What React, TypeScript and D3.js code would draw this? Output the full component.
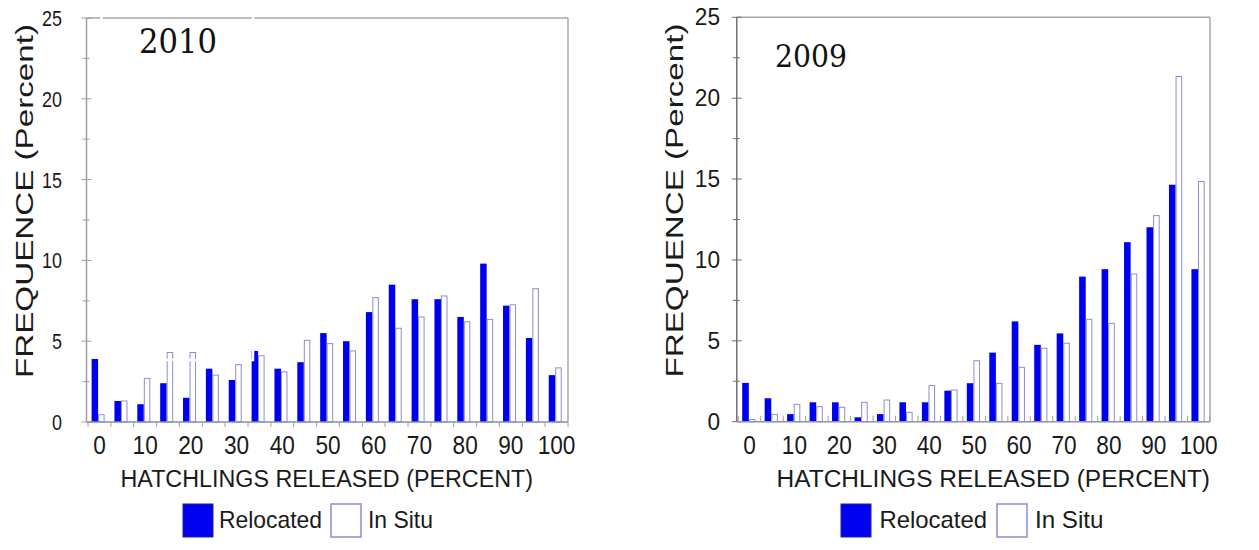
import { scaleBand, scaleLinear } from "d3";

const CATEGORIES = [0, 5, 10, 15, 20, 25, 30, 35, 40, 45, 50, 55, 60, 65, 70, 75, 80, 85, 90, 95, 100];
const X_TICK_LABELS = ["0", "10", "20", "30", "40", "50", "60", "70", "80", "90", "100"];
const Y_TICKS = [0, 5, 10, 15, 20, 25];
const Y_MINOR_TICKS = [2.5, 7.5, 12.5, 17.5, 22.5];

// 2010
const RELOCATED_2010 = [3.9, 1.3, 1.1, 2.4, 1.5, 3.3, 2.6, 4.4, 3.3, 3.7, 5.5, 5.0, 6.8, 8.5, 7.6, 7.6, 6.5, 9.8, 7.2, 5.2, 2.9];
const IN_SITU_2010 = [0.45, 1.3, 2.7, 4.3, 4.3, 2.9, 3.55, 4.1, 3.1, 5.05, 4.85, 4.4, 7.7, 5.8, 6.5, 7.8, 6.2, 6.35, 7.25, 8.25, 3.35];

// 2009
const RELOCATED_2009 = [2.4, 1.45, 0.47, 1.2, 1.2, 0.27, 0.47, 1.2, 1.2, 1.92, 2.38, 4.27, 6.2, 4.75, 5.46, 8.97, 9.43, 11.1, 12.02, 14.65, 9.43];
const IN_SITU_2009 = [0.14, 0.45, 1.07, 0.93, 0.89, 1.2, 1.34, 0.58, 2.23, 1.96, 3.77, 2.37, 3.36, 4.54, 4.85, 6.33, 6.08, 9.13, 12.74, 21.34, 14.85];

const Y_TITLE = "FREQUENCE (Percent)";
const X_TITLE = "HATCHLINGS RELEASED (PERCENT)";
const LEGEND = ["Relocated", "In Situ"];

const BLUE = "#0000f0";
const HOLLOW_STROKE = "#8c8cd2";
const TEXT = "#1a1a1a";
const SANS = "'Liberation Sans', Arial, sans-serif";
const SERIF = "'DejaVu Serif', 'Liberation Serif', serif";

interface PanelCfg {
  year: string;
  left: number;
  right: number;
  top: number;
  bottom: number;
  barOffset: number;
  barW: number;
  axisColor: string;
  baseColor: string;
  tickUp: boolean;
  yLabelRight: number;
  yLabelFont: number;
  yLabelDigitW: number;
  yTitleX: number;
  xTitleX: [number, number];
  yearX: number;
  yearY: number;
  yearW: number;
  yearFont: number;
  legend: { sq1: number; t1: [number, number]; sq2: number; t2: [number, number] };
}

const LEFT_CFG: PanelCfg = {
  year: "2010",
  left: 88,
  right: 568,
  top: 18,
  bottom: 422,
  barOffset: 3.6,
  barW: 6.5,
  axisColor: "#a0a0a0",
  baseColor: "#8a8ab8",
  tickUp: false,
  yLabelRight: 62,
  yLabelFont: 22,
  yLabelDigitW: 10,
  yTitleX: 33,
  xTitleX: [120.5, 533],
  yearX: 139,
  yearY: 52.7,
  yearW: 78,
  yearFont: 34,
  legend: { sq1: 183, t1: [219, 322], sq2: 331, t2: [368, 433] },
};

const RIGHT_CFG: PanelCfg = {
  year: "2009",
  left: 738.3,
  right: 1210,
  top: 17.3,
  bottom: 421.7,
  barOffset: 3.9,
  barW: 6.6,
  axisColor: "#707070",
  baseColor: "#9090a8",
  tickUp: true,
  yLabelRight: 720,
  yLabelFont: 23,
  yLabelDigitW: 12.6,
  yTitleX: 683,
  xTitleX: [776.5, 1210],
  yearX: 775,
  yearY: 66.7,
  yearW: 72,
  yearFont: 32,
  legend: { sq1: 841, t1: [879.5, 987], sq2: 997, t2: [1035, 1103.5] },
};

function Panel({ cfg, relocated, inSitu }: { cfg: PanelCfg; relocated: number[]; inSitu: number[] }) {
  const x = scaleBand<number>().domain(CATEGORIES).range([cfg.left, cfg.right]).paddingInner(0).paddingOuter(0);
  const y = scaleLinear().domain([0, 25]).range([cfg.bottom, cfg.top]);
  const bw = x.bandwidth();
  const boundaries = [...CATEGORIES.map((c) => x(c) ?? 0), cfg.right];
  const axisX = cfg.left - 1.5;

  return (
    <g>
      {/* frame */}
      <line x1={axisX} x2={cfg.right} y1={cfg.top} y2={cfg.top} stroke="#a8a8a8" strokeWidth={1.5} />
      <line x1={cfg.right} x2={cfg.right} y1={cfg.top} y2={cfg.bottom} stroke="#a8a8a8" strokeWidth={1.5} />
      <line x1={axisX} x2={axisX} y1={cfg.top} y2={cfg.bottom} stroke={cfg.axisColor} strokeWidth={1.5} />

      {/* y ticks */}
      {Y_TICKS.map((t) => (
        <line key={"yt" + t} x1={axisX - 5} x2={axisX + 5} y1={y(t)} y2={y(t)} stroke={cfg.axisColor} strokeWidth={1} />
      ))}
      {Y_MINOR_TICKS.map((t) => (
        <line key={"ym" + t} x1={axisX - 4} x2={axisX + 3} y1={y(t)} y2={y(t)} stroke={cfg.axisColor} strokeWidth={1} />
      ))}
      {Y_TICKS.map((t) => (
        <text
          key={"yl" + t}
          x={cfg.yLabelRight}
          y={y(t) + 8}
          textAnchor="end"
          fontSize={cfg.yLabelFont}
          fontFamily={SANS}
          fill={TEXT}
          textLength={String(t).length * cfg.yLabelDigitW}
          lengthAdjust="spacingAndGlyphs"
        >
          {t}
        </text>
      ))}

      {/* bars */}
      {CATEGORIES.map((c, i) => {
        const x0 = (x(c) ?? 0) + cfg.barOffset;
        return (
          <g key={"b" + c}>
            <rect x={x0} y={y(relocated[i])} width={cfg.barW} height={y(0) - y(relocated[i])} fill={BLUE} />
            <rect
              x={x0 + cfg.barW + 0.5}
              y={y(inSitu[i])}
              width={cfg.barW - 1}
              height={y(0) - y(inSitu[i])}
              fill="#ffffff"
              stroke={HOLLOW_STROKE}
              strokeWidth={1}
            />
          </g>
        );
      })}

      {/* baseline + x ticks */}
      <line x1={axisX} x2={cfg.right} y1={cfg.bottom} y2={cfg.bottom} stroke={cfg.baseColor} strokeWidth={1.5} />
      {boundaries.map((bx, i) => (
        <line
          key={"xt" + i}
          x1={bx}
          x2={bx}
          y1={cfg.bottom}
          y2={cfg.tickUp ? cfg.bottom - 6 : cfg.bottom + 5}
          stroke="#a0a0a0"
          strokeWidth={1}
        />
      ))}
      {X_TICK_LABELS.map((lab, i) => (
        <text
          key={"xl" + lab}
          x={(x(CATEGORIES[i * 2]) ?? 0) + bw / 2}
          y={454.3}
          textAnchor="middle"
          fontSize={25}
          fontFamily={SANS}
          fill={TEXT}
          textLength={lab.length * 12.6}
          lengthAdjust="spacingAndGlyphs"
        >
          {lab}
        </text>
      ))}

      {/* axis titles */}
      <text
        transform={`translate(${cfg.yTitleX},${(cfg.top + cfg.bottom) / 2 - 19}) rotate(-90)`}
        textAnchor="middle"
        fontSize={23}
        fontFamily={SANS}
        fill={TEXT}
        textLength={354}
        lengthAdjust="spacingAndGlyphs"
      >
        {Y_TITLE}
      </text>
      <text
        x={(cfg.xTitleX[0] + cfg.xTitleX[1]) / 2}
        y={487}
        textAnchor="middle"
        fontSize={23}
        fontFamily={SANS}
        fill={TEXT}
        textLength={cfg.xTitleX[1] - cfg.xTitleX[0]}
        lengthAdjust="spacingAndGlyphs"
      >
        {X_TITLE}
      </text>

      {/* legend */}
      <rect x={cfg.legend.sq1} y={504} width={30} height={33} fill={BLUE} stroke="#2020a0" strokeWidth={1} />
      <text
        x={cfg.legend.t1[0]}
        y={528}
        fontSize={24}
        fontFamily={SANS}
        fill={TEXT}
        textLength={cfg.legend.t1[1] - cfg.legend.t1[0]}
        lengthAdjust="spacingAndGlyphs"
      >
        {LEGEND[0]}
      </text>
      <rect x={cfg.legend.sq2} y={504} width={30} height={33} fill="#ffffff" stroke={HOLLOW_STROKE} strokeWidth={1.5} />
      <text
        x={cfg.legend.t2[0]}
        y={528}
        fontSize={24}
        fontFamily={SANS}
        fill={TEXT}
        textLength={cfg.legend.t2[1] - cfg.legend.t2[0]}
        lengthAdjust="spacingAndGlyphs"
      >
        {LEGEND[1]}
      </text>

      {/* year label */}
      <text
        x={cfg.yearX}
        y={cfg.yearY}
        fontSize={cfg.yearFont}
        fontFamily={SERIF}
        fill="#111"
        textLength={cfg.yearW}
        lengthAdjust="spacingAndGlyphs"
      >
        {cfg.year}
      </text>
    </g>
  );
}

export default function App() {
  return (
    <svg
      width={1259}
      height={550}
      viewBox="0 0 1259 550"
      style={{ position: "absolute", left: 0, top: 0, background: "#ffffff" }}
    >
      <rect x={0} y={0} width={1259} height={550} fill="#ffffff" />
      <Panel cfg={LEFT_CFG} relocated={RELOCATED_2010} inSitu={IN_SITU_2010} />
      {/* leftover white text-box outline from the source figure */}
      <rect x={101.5} y={2} width={151.5} height={358} fill="none" stroke="#ffffff" strokeWidth={2.5} />
      <Panel cfg={RIGHT_CFG} relocated={RELOCATED_2009} inSitu={IN_SITU_2009} />
    </svg>
  );
}
